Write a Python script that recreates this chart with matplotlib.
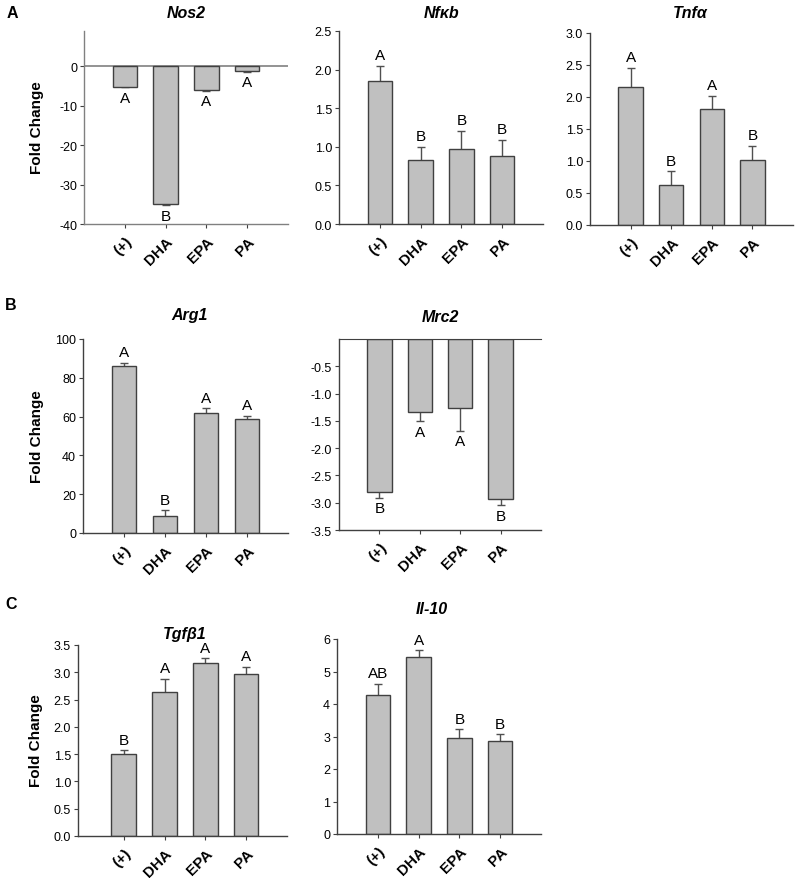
import numpy as np
import matplotlib
matplotlib.use("Agg")
import matplotlib.pyplot as plt

plt.rcParams['font.family'] = ['Liberation Sans', 'DejaVu Sans']

groups = ["(+)", "DHA", "EPA", "PA"]

nos2 = [-5.1, -35.0, -5.9, -1.1]
nos2_err = [0.2, 0.3, 0.3, 0.2]
nos2_let = ["A", "B", "A", "A"]

nfkb = [1.85, 0.83, 0.97, 0.88]
nfkb_err = [0.20, 0.17, 0.24, 0.21]
nfkb_let = ["A", "B", "B", "B"]

tnfa = [2.15, 0.63, 1.81, 1.02]
tnfa_err = [0.31, 0.21, 0.21, 0.22]
tnfa_let = ["A", "B", "A", "B"]

arg1 = [86.3, 8.8, 61.7, 58.9]
arg1_err = [1.5, 2.8, 2.5, 1.5]
arg1_let = ["A", "B", "A", "A"]

mrc2 = [-2.81, -1.34, -1.26, -2.93]
mrc2_err = [0.10, 0.17, 0.42, 0.12]
mrc2_let = ["B", "A", "A", "B"]

tgfb1 = [1.51, 2.64, 3.17, 2.96]
tgfb1_err = [0.06, 0.24, 0.09, 0.14]
tgfb1_let = ["B", "A", "A", "A"]

il10 = [4.28, 5.45, 2.96, 2.87]
il10_err = [0.34, 0.21, 0.27, 0.20]
il10_let = ["AB", "A", "B", "B"]

W, H = 797, 879
fig = plt.figure(figsize=(W / 100, H / 100), dpi=100)

SPINE = "#404040"
GREY = "#808080"


def make_ax(l, r, t, b):
    return fig.add_axes([l / W, 1 - b / H, (r - l) / W, (b - t) / H])


def panel(ax, vals, errs, lets, ylim, yticks, yfmt, xlim=(-1.0, 4.0),
          neg=False, zero_line=False, top_line=False):
    x = np.arange(len(groups))
    v = np.array(vals)
    e = np.array(errs)
    ax.bar(x, v, width=0.6, color="#c0c0c0", edgecolor=SPINE, linewidth=1.0, zorder=2)
    sign = -1 if neg else 1
    ends = v + sign * e
    ax.vlines(x, v, ends, color="#505050", linewidth=1.0, zorder=1)
    ax.hlines(ends, x - 0.1, x + 0.1, color="#505050", linewidth=1.0, zorder=1)
    for xi, yi, lab in zip(x, ends, lets):
        if neg:
            ax.annotate(lab, (xi, yi), xytext=(0, -2.5), textcoords="offset points",
                        ha="center", va="top", fontsize=11)
        else:
            ax.annotate(lab, (xi, yi), xytext=(0, 2.5), textcoords="offset points",
                        ha="center", va="bottom", fontsize=11)
    ax.set_xlim(*xlim)
    ax.set_ylim(*ylim)
    ax.set_yticks(yticks)
    ax.set_yticklabels([yfmt.format(t) for t in yticks], fontsize=9)
    ax.set_xticks(x)
    ax.set_xticklabels(groups, rotation=45, ha="right", rotation_mode="anchor",
                       fontsize=11, fontweight="bold")
    for s in ["top", "right"]:
        ax.spines[s].set_visible(False)
    for s in ["left", "bottom"]:
        ax.spines[s].set_color(SPINE)
        ax.spines[s].set_linewidth(1.0)
    if top_line:
        ax.spines["top"].set_visible(True)
        ax.spines["top"].set_color(SPINE)
    if zero_line:
        ax.axhline(0, color=GREY, linewidth=1.2, zorder=0)
    ax.tick_params(axis="both", direction="out", length=3, width=0.8, color=SPINE, pad=2)
    ax.tick_params(axis="x", pad=4)


# Row A
ax1 = make_ax(84, 288, 32, 225)
panel(ax1, nos2, nos2_err, nos2_let, (-40, 9), [0, -10, -20, -30, -40], "{:g}",
      neg=True, zero_line=True)
ax1.spines["left"].set_color(GREY)
ax1.spines["bottom"].set_color(GREY)

ax2 = make_ax(339, 543, 32, 225)
panel(ax2, nfkb, nfkb_err, nfkb_let, (0, 2.5), [0, 0.5, 1.0, 1.5, 2.0, 2.5], "{:.1f}")

ax3 = make_ax(590, 793, 34, 226)
panel(ax3, tnfa, tnfa_err, tnfa_let, (0, 3.0), [0, 0.5, 1.0, 1.5, 2.0, 2.5, 3.0], "{:.1f}")

# Row B
ax4 = make_ax(83, 288, 340, 534)
panel(ax4, arg1, arg1_err, arg1_let, (0, 100), [0, 20, 40, 60, 80, 100], "{:g}")

ax5 = make_ax(339, 541, 340, 531)
panel(ax5, mrc2, mrc2_err, mrc2_let, (-3.5, 0), [-0.5, -1.0, -1.5, -2.0, -2.5, -3.0, -3.5],
      "{:.1f}", neg=True, top_line=True)

# Row C
ax6 = make_ax(78, 287, 646, 837)
panel(ax6, tgfb1, tgfb1_err, tgfb1_let, (0, 3.5), [0, 0.5, 1.0, 1.5, 2.0, 2.5, 3.0, 3.5],
      "{:.1f}", xlim=(-1.12, 4.0))

ax7 = make_ax(337, 541, 640, 835)
panel(ax7, il10, il10_err, il10_let, (0, 6), [0, 1, 2, 3, 4, 5, 6], "{:g}")

# Titles
title_kw = dict(ha="center", va="center", fontsize=11.5, fontweight="bold", fontstyle="italic")
fig.text(186 / W, 1 - 14 / H, "Nos2", **title_kw)
fig.text(442 / W, 1 - 14 / H, "Nfκb", **title_kw)
fig.text(690 / W, 1 - 14 / H, "Tnfα", **title_kw)
fig.text(190 / W, 1 - 316 / H, "Arg1", **title_kw)
fig.text(440 / W, 1 - 317 / H, "Mrc2", **title_kw)
fig.text(185 / W, 1 - 635 / H, "Tgfβ1", **title_kw)
fig.text(432 / W, 1 - 610 / H, "Il-10", **title_kw)

# Panel letters
let_kw = dict(ha="center", va="center", fontsize=11.5, fontweight="bold")
fig.text(12 / W, 1 - 14 / H, "A", **let_kw)
fig.text(11 / W, 1 - 305 / H, "B", **let_kw)
fig.text(11 / W, 1 - 605 / H, "C", **let_kw)

# Y labels
yl_kw = dict(ha="center", va="center", fontsize=11, fontweight="bold", rotation=90)
fig.text(37 / W, 1 - 128 / H, "Fold Change", **yl_kw)
fig.text(37 / W, 1 - 437 / H, "Fold Change", **yl_kw)
fig.text(36 / W, 1 - 741 / H, "Fold Change", **yl_kw)

fig.savefig("out.png", dpi=100)
